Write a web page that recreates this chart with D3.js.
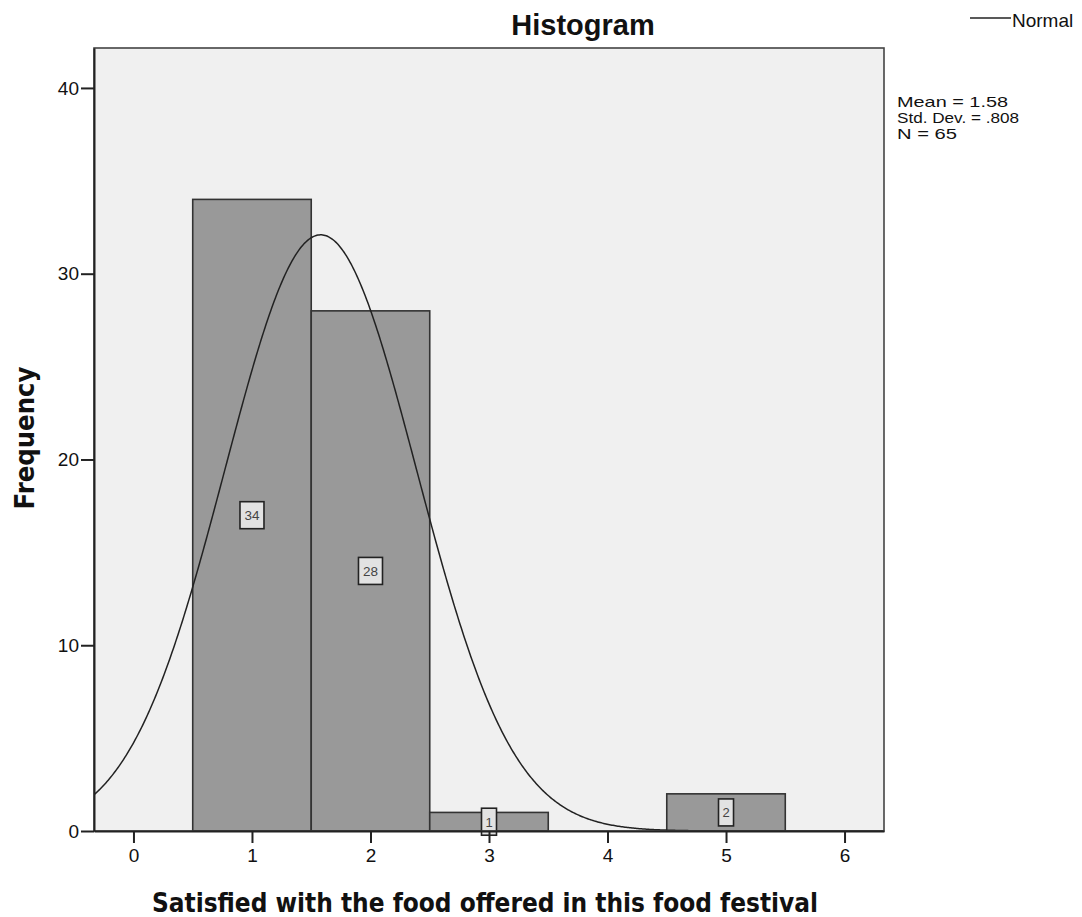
<!DOCTYPE html>
<html>
<head>
<meta charset="utf-8">
<script src="https://cdn.jsdelivr.net/npm/d3@7"></script>
<style>
  html, body { margin: 0; padding: 0; background: #fff; }
  svg { display: block; }
</style>
</head>
<body>
<svg id="chart" width="1082" height="917"></svg>
<script>
// ---- data ----
const binCenters = [1, 2, 3, 4, 5];
const frequencies = [34, 28, 1, 0, 2];
const binWidth = 1;
const xTicks = [0, 1, 2, 3, 4, 5, 6];
const yTicks = [0, 10, 20, 30, 40];
const statMean = 1.58;
const statSD = 0.808;
const statN = 65;
const statLines = ["Mean = 1.58", "Std. Dev. = .808", "N = 65"];
const chartTitle = "Histogram";
const xTitle = "Satisfied with the food offered in this food festival";
const yTitle = "Frequency";
const legendLabel = "Normal";

// ---- layout ----
const svg = d3.select("#chart");
const L = 94, R = 884, T = 48, B = 831;
const x = d3.scaleLinear().domain([-0.333, 6.333]).range([L, R]);
const y = d3.scaleLinear().domain([0, 42.15]).range([B, T]);
const numFont = "'Liberation Sans', Arial, sans-serif";
const boldFont = "'DejaVu Sans', Verdana, sans-serif";

// plot background
svg.append("rect").attr("x", L).attr("y", T).attr("width", R - L).attr("height", B - T)
  .attr("fill", "#f0f0f0");

// clip
svg.append("clipPath").attr("id", "clip").append("rect")
  .attr("x", L).attr("y", T).attr("width", R - L).attr("height", B - T);

// bars
const bins = binCenters.map((c, i) => ({ c, f: frequencies[i] })).filter(d => d.f > 0);
const g = svg.append("g").attr("clip-path", "url(#clip)");
g.selectAll("rect.bar").data(bins).enter().append("rect")
  .attr("class", "bar")
  .attr("x", d => x(d.c - binWidth / 2))
  .attr("y", d => y(d.f))
  .attr("width", d => x(d.c + binWidth / 2) - x(d.c - binWidth / 2))
  .attr("height", d => y(0) - y(d.f))
  .attr("fill", "#999999")
  .attr("stroke", "#333333")
  .attr("stroke-width", 1.6);

// normal curve (from stated mean, sd, N)
const pdf = v => Math.exp(-0.5 * Math.pow((v - statMean) / statSD, 2)) / (statSD * Math.sqrt(2 * Math.PI));
const curvePts = d3.range(x.domain()[0], x.domain()[1] + 0.001, 0.01)
  .map(v => [v, statN * binWidth * pdf(v)]);
g.append("path")
  .datum(curvePts)
  .attr("fill", "none")
  .attr("stroke", "#222")
  .attr("stroke-width", 1.5)
  .attr("d", d3.line().x(d => x(d[0])).y(d => y(d[1])));

// bar count labels
const lab = svg.append("g");
bins.forEach(d => {
  const txt = String(d.f);
  const w = txt.length > 1 ? 24 : 15;
  const h = 27;
  const cx = x(d.c), cy = y(d.f / 2);
  lab.append("rect").attr("x", cx - w / 2).attr("y", cy - h / 2)
    .attr("width", w).attr("height", h)
    .attr("fill", "#e2e2e2").attr("stroke", "#222").attr("stroke-width", 1.6);
  lab.append("text").attr("x", cx).attr("y", cy + 5)
    .attr("text-anchor", "middle")
    .attr("font-family", numFont).attr("font-size", 13)
    .attr("fill", "#444")
    .attr("textLength", txt.length > 1 ? 15 : null)
    .attr("lengthAdjust", "spacingAndGlyphs")
    .text(txt);
});

// frame
svg.append("rect").attr("x", L).attr("y", T).attr("width", R - L).attr("height", B - T)
  .attr("fill", "none").attr("stroke", "#444").attr("stroke-width", 1.6);

// axes
const xAxis = d3.axisBottom(x).tickValues(xTicks).tickSizeInner(12).tickSizeOuter(0).tickPadding(6).tickFormat(d3.format("d"));
const yAxis = d3.axisLeft(y).tickValues(yTicks).tickSizeInner(13).tickSizeOuter(0).tickPadding(2).tickFormat(d3.format("d"));
const gx = svg.append("g").attr("transform", `translate(0,${B})`).call(xAxis);
const gy = svg.append("g").attr("transform", `translate(${L},0)`).call(yAxis);
[gx, gy].forEach(a => {
  a.select(".domain").attr("stroke", "#222").attr("stroke-width", 2);
  a.selectAll(".tick line").attr("stroke", "#222").attr("stroke-width", 2);
  a.selectAll(".tick text").attr("font-family", numFont).attr("font-size", 19).attr("fill", "#111");
});

// title
svg.append("text").attr("x", 583).attr("y", 35)
  .attr("text-anchor", "middle").attr("font-family", numFont)
  .attr("font-weight", "bold").attr("font-size", 29).attr("fill", "#111")
  .text(chartTitle);

// x title
svg.append("text").attr("x", 485).attr("y", 912)
  .attr("text-anchor", "middle").attr("font-family", boldFont)
  .attr("font-weight", "bold").attr("font-size", 26).attr("fill", "#111")
  .attr("textLength", 666).attr("lengthAdjust", "spacingAndGlyphs")
  .text(xTitle);

// y title
svg.append("text").attr("transform", "translate(34,438) rotate(-90)")
  .attr("text-anchor", "middle").attr("font-family", boldFont)
  .attr("font-weight", "bold").attr("font-size", 26).attr("fill", "#111")
  .attr("textLength", 143).attr("lengthAdjust", "spacingAndGlyphs")
  .text(yTitle);

// legend
svg.append("line").attr("x1", 970).attr("x2", 1011).attr("y1", 18).attr("y2", 18)
  .attr("stroke", "#222").attr("stroke-width", 1.5);
svg.append("text").attr("x", 1012).attr("y", 26.5)
  .attr("font-family", numFont).attr("font-size", 19).attr("fill", "#111")
  .text(legendLabel);

// stats
const statWidths = [111, 122, 60];
svg.append("g").selectAll("text").data(statLines).enter().append("text")
  .attr("x", 897).attr("y", (d, i) => 107 + i * 16)
  .attr("font-family", numFont).attr("font-size", 15).attr("fill", "#111")
  .attr("textLength", (d, i) => statWidths[i]).attr("lengthAdjust", "spacingAndGlyphs")
  .text(d => d);
</script>
</body>
</html>
